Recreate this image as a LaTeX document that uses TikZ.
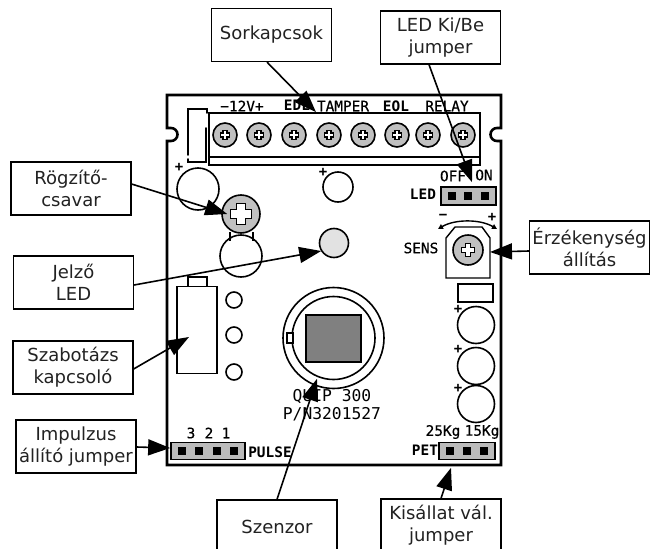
\documentclass[tikz,border=0pt]{standalone}
\usepackage{fontspec}
\setmainfont{DejaVu Sans}
\newfontfamily\monofont[FakeBold=0.5]{DejaVu Sans Mono}
\newfontfamily\monoplain{DejaVu Sans Mono}
\definecolor{cScrew}{HTML}{C0C0C0}
\definecolor{cPin}{HTML}{BBBBBB}
\definecolor{cLed}{HTML}{E2E2E2}
\definecolor{cSensor}{HTML}{808080}
\definecolor{cText}{HTML}{222222}
\usetikzlibrary{arrows.meta}
\tikzset{
  node-box/.style={draw=black,line width=1.2pt,fill=white,minimum width=120pt,minimum height=53pt,
    inner sep=0pt,align=center,text=cText,font=\fontsize{18}{22}\selectfont},
  node-print/.style={inner sep=0pt,font=\monofont\fontsize{14.4}{16}\selectfont},
  node-printb/.style={node-print,font=\monoplain\bfseries\fontsize{14.4}{16}\selectfont},
  node-large/.style={inner sep=0pt,font=\monoplain\fontsize{16.3}{18}\selectfont},
  node-plus/.style={inner sep=0pt,font=\monoplain\bfseries\fontsize{14}{14}\selectfont},
  node-screw/.style={draw=black,line width=1.6pt,fill=cScrew,circle,inner sep=0pt},
  node-ring/.style={draw=black,line width=1.6pt,circle,inner sep=0pt},
  node-header/.style={draw=black,line width=1.7pt,fill=cPin,inner sep=0pt,minimum height=17pt},
  node-pin/.style={fill=black,inner sep=0pt,minimum size=8pt},
  part/.style={draw=black,line width=1.8pt},
  arrow/.style={-{Triangle[length=22pt,width=16pt]},line width=1.6pt,draw=black},
  arrow-pot/.style={{Triangle[length=5pt,width=5pt]}-{Triangle[length=5pt,width=5pt]},line width=1.4pt},
  screw-cross/.pic={
    \draw[fill=white,line width=1.1pt] (-4.5,-2) -- (-2,-2) -- (-2,-4.5) -- (2,-4.5) -- (2,-2) -- (4.5,-2)
      -- (4.5,2) -- (2,2) -- (2,4.5) -- (-2,4.5) -- (-2,2) -- (-4.5,2) -- cycle;
  },
}
\begin{document}
\begin{tikzpicture}[x=1pt,y=-1pt]
  \path[use as bounding box] (0,0) rectangle (651,549);
  % board outline
  \draw[line width=2.6pt] (167,95) -- (167,128) -- (171,128) arc[start angle=-90,end angle=90,radius=6.5]
    -- (167,141) -- (167,465) -- (501,465) -- (501,141) -- (497,141)
    arc[start angle=90,end angle=270,radius=6.5] -- (501,128) -- (501,95) -- cycle;
  % terminal block
  \draw[part] (209,157) rectangle (480,165);
  \node[part,minimum width=271pt,minimum height=44pt,inner sep=0pt] (block) at (344.5,135) {};
  \draw[part,line cap=round] (207,113) -- (207,109) -- (188,109) -- (188,155);
  \draw[part,line cap=round] (188,159) -- (188,162) -- (206,162) -- (206,128);
  \foreach \x [count=\i] in {225,259,294,329,363,397,428,463} {
    \node[node-screw,minimum size=24pt] (t\i) at (\x,135) {};
    \pic at (t\i) {screw-cross};
  }
  \node[node-print] at (242,106) {−12V+};
  \node[node-printb] at (297,105) {EDL};
  \node[node-print] at (343,106) {TAMPER};
  \node[node-printb] at (396,106) {EOL};
  \node[node-print] at (447,106) {RELAY};
  % left column
  \node[node-ring,minimum size=42pt] (cap1) at (198,189) {};
  \node[node-plus] at (179,167) {+};
  \draw[part] (230,232) -- (230,241) (253,232) -- (253,241);
  \node[node-ring,minimum size=42pt] (cap2) at (241,256) {};
  \node[node-screw,minimum size=38pt] (fix) at (241,214) {};
  \pic[scale=2.3] at (fix) {screw-cross};
  % middle
  \node[node-ring,minimum size=30pt] (cap3) at (338,187) {};
  \node[node-plus] at (323,172) {+};
  \node[node-ring,fill=cLed,minimum size=29pt] (led) at (334,243) {};
  % LED jumper
  \node[node-header,minimum width=55pt,minimum height=18pt] (jled) at (468.5,196) {};
  \foreach \x in {452,468,485} \node[node-pin] at (\x,196) {};
  \node[node-printb] at (423,194) {LED};
  \node[node-print] at (453,176) {OFF};
  \node[node-print] at (484,175) {ON};
  % sensitivity pot
  \draw[line width=1.4pt] (455,227) -- (482,227) -- (490,238) -- (490,278) -- (446,278) -- (446,238) -- cycle;
  \node[coordinate] (pot) at (490,252) {};
  \node[node-screw,minimum size=30pt] (trim) at (468,250) {};
  \pic[scale=1.4] at (trim) {screw-cross};
  \draw[arrow-pot] (438,229) .. controls (455,219) and (480,219) .. (497,229);
  \node[node-plus] at (443,217) {−};
  \node[node-plus] at (492,217) {+};
  \node[node-print] at (421,248) {SENS};
  % right column
  \draw[part] (458,284) rectangle (493,302);
  \foreach \y/\p in {325/309,366/349,404/388} {
    \node[node-ring,minimum size=37pt] at (476,\y) {};
    \node[node-plus] at (458,\p) {+};
  }
  % tamper switch
  \draw[part] (188,286) -- (188,277) -- (207,277) -- (207,286);
  \node[part,minimum width=40pt,minimum height=87pt,inner sep=0pt] (sw) at (197,330) {};
  \foreach \y in {300,335,372} \node[node-ring,minimum size=16pt] at (234,\y) {};
  % sensor
  \node[node-ring,minimum size=101pt] (sens) at (333.5,338) {};
  \node[node-ring,minimum size=83pt] at (333.5,338) {};
  \node[part,fill=cSensor,minimum width=55pt,minimum height=47pt,inner sep=0pt] at (333.5,338.5) {};
  \draw[fill=white,line width=1.4pt] (287,333) rectangle (293,343);
  \node[node-large] at (332,397) {QUIP 300};
  \node[node-large] at (332,414) {P/N3201527};
  % pulse jumper
  \node[node-header,minimum width=74pt] (jpulse) at (208,451) {};
  \foreach \x in {182,199,217,234} \node[node-pin] at (\x,451) {};
  \foreach \x/\t in {191/3,209/2,226/1} \node[node-print] at (\x,433) {\t};
  \node[node-printb] at (270,452) {PULSE};
  % pet jumper
  \node[node-header,minimum width=56pt] (jpet) at (467,451) {};
  \foreach \x in {450,467,484} \node[node-pin] at (\x,451) {};
  \node[node-printb] at (425,450) {PET};
  \node[node-print] at (443,432) {25Kg};
  \node[node-print] at (482,432) {15Kg};
  % callouts
  \node[node-box] (bterm) at (271.5,35) {Sorkapcsok};
  \node[node-box] (bjled) at (440.5,37.5) {LED Ki/Be\\jumper};
  \node[node-box] (bfix) at (71,188.5) {Rögzítő-\\csavar};
  \node[node-box] (bled) at (73.5,282.5) {Jelző\\LED};
  \node[node-box] (bsw) at (73,367.5) {Szabotázs\\kapcsoló};
  \node[node-box] (bpulse) at (76,446.5) {Impulzus\\állító jumper};
  \node[node-box] (btrim) at (589.5,247.5) {Érzékenység\\állítás};
  \node[node-box] (bsens) at (277,526.5) {Szenzor};
  \node[node-box] (bpet) at (441,525.5) {Kisállat vál.\\jumper};
  \draw[arrow] ([xshift=-4.5]bterm.south) -- ([xshift=-28.5]block.north);
  \draw[arrow] ([xshift=-11.5]bjled.south) -- ([shift={(3.5,-4)}]jled.north);
  \draw[arrow] ([yshift=4.5]bfix.east) -- ([xshift=6]fix.west);
  \draw[arrow] ([yshift=-2.5]bled.east) -- ([shift={(2.5,8)}]led.west);
  \draw[arrow] ([yshift=-1.5]bsw.east) -- ([shift={(-8,7)}]sw.center);
  \draw[arrow] ([yshift=-.5]bpulse.east) -- ([yshift=3]jpulse.west);
  \draw[arrow] ([yshift=-3.5]btrim.west) -- (pot);
  \draw[arrow] (bsens.north) -- ([shift={(-16.5,-10.5)}]sens.south);
  \draw[arrow] (bpet.north) -- ([shift={(-16,7.5)}]jpet.south);
\end{tikzpicture}
\end{document}
